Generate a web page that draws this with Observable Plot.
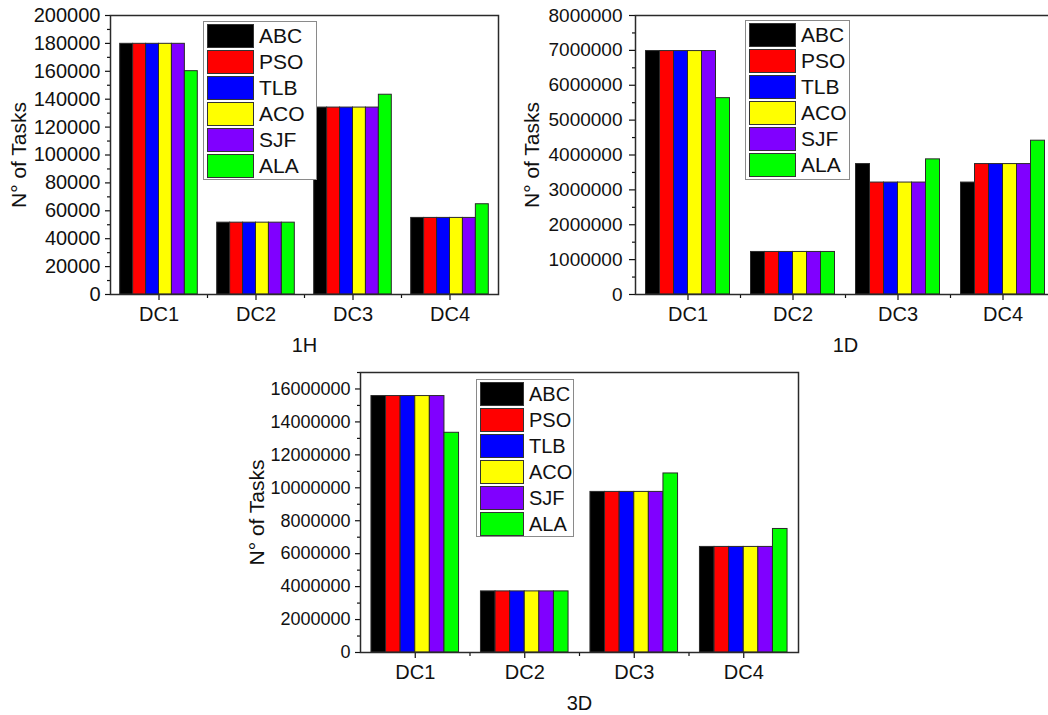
<!DOCTYPE html>
<html>
<head>
<meta charset="utf-8">
<script src="https://cdn.jsdelivr.net/npm/d3@7"></script>
<script src="https://cdn.jsdelivr.net/npm/@observablehq/plot@0.6"></script>
<style>
  html, body { margin: 0; padding: 0; background: #fff; width: 1048px; height: 715px; overflow: hidden; }
  body { position: relative; font-family: "Liberation Sans", Arial, sans-serif; }
  .panel { position: absolute; }
  .panel svg { max-width: none !important; background: transparent !important; overflow: visible; }
  .legend { position: absolute; border: 1px solid #8a8a8a; background: #fff; box-sizing: border-box; }
  .row { position: absolute; left: 3px; height: 23px; display: flex; align-items: center; }
  .sw { height: 22px; border: 1px solid #333; box-sizing: content-box; }
  .lab { margin-left: 5px; color: #111; line-height: 1; }
</style>
</head>
<body>
<script>
// ---- data ----
const centers = ["DC1", "DC2", "DC3", "DC4"];
const algorithms = ["ABC", "PSO", "TLB", "ACO", "SJF", "ALA"];
const colors = ["#000000", "#ff0000", "#0000ff", "#ffff00", "#8000ff", "#00ff00"];

// 1H
const h1_ABC = [179700, 51500, 134000, 54900];
const h1_PSO = [179700, 51500, 134000, 54900];
const h1_TLB = [179700, 51500, 134000, 54900];
const h1_ACO = [179700, 51500, 134000, 54900];
const h1_SJF = [179700, 51500, 134000, 54900];
const h1_ALA = [160100, 51500, 143200, 64700];
const h1_ticks = [0, 20000, 40000, 60000, 80000, 100000, 120000, 140000, 160000, 180000, 200000];

// 1D
const d1_ABC = [6980000, 1220000, 3740000, 3210000];
const d1_PSO = [6980000, 1220000, 3210000, 3740000];
const d1_TLB = [6980000, 1220000, 3210000, 3740000];
const d1_ACO = [6980000, 1220000, 3210000, 3740000];
const d1_SJF = [6980000, 1220000, 3210000, 3740000];
const d1_ALA = [5630000, 1220000, 3875000, 4410000];
const d1_ticks = [0, 1000000, 2000000, 3000000, 4000000, 5000000, 6000000, 7000000, 8000000];

// 3D
const d3_ABC = [15570000, 3710000, 9750000, 6410000];
const d3_PSO = [15570000, 3710000, 9750000, 6410000];
const d3_TLB = [15570000, 3710000, 9750000, 6410000];
const d3_ACO = [15570000, 3710000, 9750000, 6410000];
const d3_SJF = [15570000, 3710000, 9750000, 6410000];
const d3_ALA = [13340000, 3710000, 10870000, 7500000];
const d3_ticks = [0, 2000000, 4000000, 6000000, 8000000, 10000000, 12000000, 14000000, 16000000];

const FONT = "'Liberation Sans', Arial, sans-serif";

function rows(seriesArrays) {
  const out = [];
  seriesArrays.forEach((vals, s) => {
    vals.forEach((v, c) => {
      const w = 0.8 / algorithms.length;
      const x1 = (c + 1) - 0.4 + s * w;
      out.push({center: centers[c], alg: algorithms[s], x1, x2: x1 + w, value: v});
    });
  });
  return out;
}

function panel(cfg) {
  const data = rows(cfg.series);
  const step = cfg.ticks[1] - cfg.ticks[0];
  const minor = [];
  for (let i = 0; i < cfg.ticks.length; i++) {
    const m = cfg.ticks[i] + step / 2;
    if (m <= cfg.yMax) minor.push(m);
  }
  const chart = Plot.plot({
    width: cfg.width,
    height: cfg.height,
    marginLeft: cfg.ml, marginRight: cfg.mr, marginTop: cfg.mt, marginBottom: cfg.mb,
    style: {fontFamily: FONT, fontSize: cfg.fs + "px", color: "#111", background: "transparent"},
    x: {type: "linear", domain: [0.5, 4.5]},
    y: {domain: [0, cfg.yMax]},
    color: {domain: algorithms, range: colors},
    marks: [
      Plot.rect(data, {x1: "x1", x2: "x2", y1: 0, y2: "value", fill: "alg", stroke: "#2a2a2a", strokeWidth: 1}),
      Plot.axisY({ticks: cfg.ticks, tickSize: cfg.ytick, tickPadding: cfg.ypad, tickFormat: d => String(d), fontSize: cfg.fs, label: null, strokeWidth: 1.2}),
      Plot.axisY({ticks: minor, tickSize: 3, tickFormat: () => "", label: null, strokeWidth: 1.2}),
      Plot.axisX({ticks: [1, 2, 3, 4], tickSize: 6, tickPadding: 6, tickFormat: d => centers[d - 1], fontSize: 20, label: null, strokeWidth: 1.2}),
      Plot.axisX({ticks: [1.5, 2.5, 3.5], tickSize: 4, tickFormat: () => "", label: null, strokeWidth: 1.2}),
      Plot.frame({stroke: "#2a2a2a", strokeWidth: 1.5}),
      Plot.text([cfg.title], {frameAnchor: "bottom", dy: cfg.titleDy, fontSize: 20, lineAnchor: "middle", fill: "#111"}),
      Plot.text(["N\u00b0 of Tasks"], {frameAnchor: "left", dx: cfg.ylabDx, rotate: -90, fontSize: 21, lineAnchor: "middle", textAnchor: "middle", fill: "#111"})
    ]
  });
  const div = document.createElement("div");
  div.className = "panel";
  div.style.left = cfg.left + "px";
  div.style.top = cfg.top + "px";
  div.style.width = cfg.width + "px";
  div.style.height = cfg.height + "px";
  div.appendChild(chart);
  document.body.appendChild(div);

  const lg = document.createElement("div");
  lg.className = "legend";
  lg.style.left = cfg.lg[0] + "px";
  lg.style.top = cfg.lg[1] + "px";
  lg.style.width = cfg.lg[2] + "px";
  lg.style.height = cfg.lg[3] + "px";
  algorithms.forEach((a, i) => {
    const r = document.createElement("div");
    r.className = "row";
    r.style.top = (2 + i * 26) + "px";
    const sw = document.createElement("div");
    sw.className = "sw";
    sw.style.width = cfg.lg[4] + "px";
    sw.style.background = colors[i];
    const t = document.createElement("span");
    t.className = "lab";
    t.style.fontSize = cfg.lg[5] + "px";
    t.textContent = a;
    r.appendChild(sw); r.appendChild(t);
    lg.appendChild(r);
  });
  document.body.appendChild(lg);
}

panel({series: [h1_ABC, h1_PSO, h1_TLB, h1_ACO, h1_SJF, h1_ALA], ticks: h1_ticks, yMax: 200000,
  left: 0, top: 0, width: 520, height: 360, ml: 110, mr: 22, mt: 15, mb: 66,
  fs: 20, ytick: 5, ypad: 5, title: "1H", titleDy: 51, ylabDx: -91, lg: [203, 21, 114, 159, 45, 21]});

panel({series: [d1_ABC, d1_PSO, d1_TLB, d1_ACO, d1_SJF, d1_ALA], ticks: d1_ticks, yMax: 8000000,
  left: 520, top: 0, width: 535, height: 360, ml: 115, mr: 0, mt: 15, mb: 66,
  fs: 19, ytick: 6, ypad: 7, title: "1D", titleDy: 51, ylabDx: -103, lg: [745, 20, 105, 160, 45, 21]});

panel({series: [d3_ABC, d3_PSO, d3_TLB, d3_ACO, d3_SJF, d3_ALA], ticks: d3_ticks, yMax: 17000000,
  left: 240, top: 358, width: 580, height: 357, ml: 120, mr: 22, mt: 14, mb: 63,
  fs: 18, ytick: 5, ypad: 5, title: "3D", titleDy: 51, ylabDx: -103, lg: [476, 379, 98, 158, 42, 20]});
</script>
</body>
</html>
